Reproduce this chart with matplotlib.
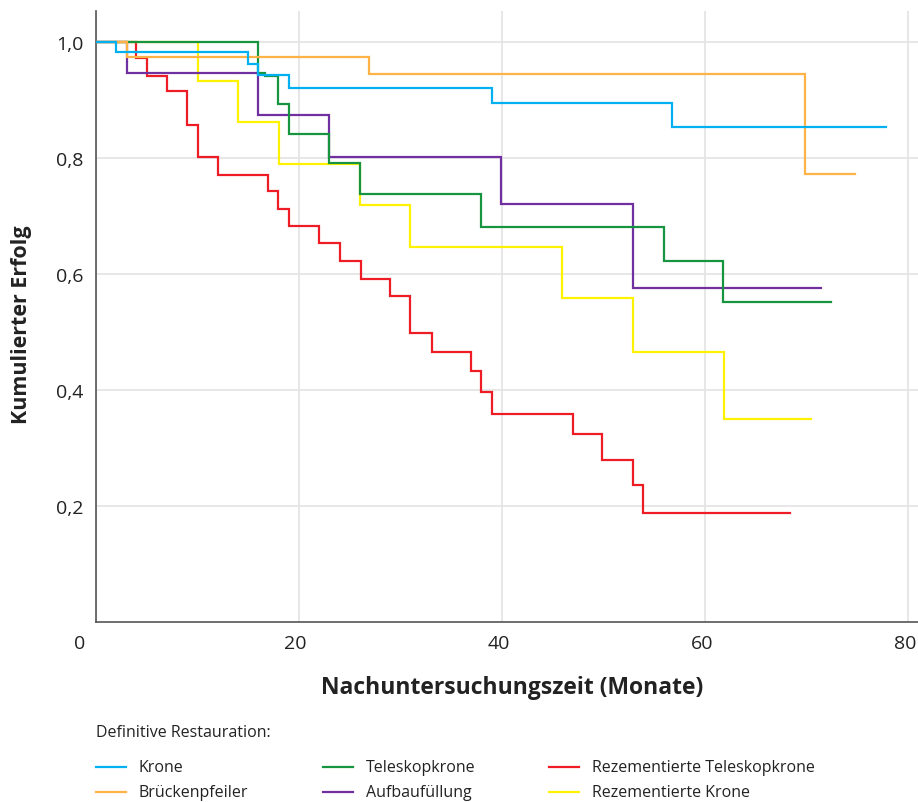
import matplotlib
matplotlib.use("Agg")
import matplotlib.pyplot as plt
import matplotlib.transforms as mtransforms
from matplotlib.lines import Line2D

# Kaplan-Meier steps: time of each drop (months), survival after it, last follow-up
krone_t = [2.0, 15.0, 16.0, 19.0, 39.0, 56.8]
krone_s = [0.982, 0.962, 0.942, 0.921, 0.895, 0.853]
krone_end = 77.8

bruecke_t = [3.1, 26.9, 69.9]
bruecke_s = [0.974, 0.944, 0.772]
bruecke_end = 74.8

teleskop_t = [16.0, 16.7, 18.0, 19.0, 23.0, 26.0, 38.0, 56.0, 61.8]
teleskop_s = [0.947, 0.941, 0.893, 0.841, 0.791, 0.737, 0.680, 0.622, 0.551]
teleskop_end = 72.4

aufbau_t = [3.05, 16.0, 23.0, 39.9, 52.9]
aufbau_s = [0.947, 0.874, 0.802, 0.720, 0.576]
aufbau_end = 71.4

rez_tk_t = [4.0, 5.1, 7.0, 9.0, 10.1, 12.0, 17.0, 18.0, 19.05, 22.0, 24.1,
            26.1, 29.0, 31.0, 33.1, 37.0, 38.0, 39.0, 47.0, 49.9, 52.9, 53.9]
rez_tk_s = [0.972, 0.941, 0.915, 0.856, 0.801, 0.771, 0.743, 0.711, 0.683,
            0.653, 0.623, 0.591, 0.561, 0.498, 0.466, 0.433, 0.396, 0.359,
            0.324, 0.280, 0.236, 0.187]
rez_tk_end = 68.4

rez_k_t = [10.05, 14.0, 18.05, 26.0, 31.0, 45.9, 52.9, 61.9]
rez_k_s = [0.933, 0.862, 0.790, 0.718, 0.646, 0.558, 0.466, 0.350]
rez_k_end = 70.5

labels = ["Krone", "Brückenpfeiler", "Teleskopkrone", "Aufbaufüllung",
          "Rezementierte Teleskopkrone", "Rezementierte Krone"]
colors = ["#00b0f0", "#ffb347", "#17943f", "#7030a0", "#ee1c25", "#fff200"]
series = [(krone_t, krone_s, krone_end), (bruecke_t, bruecke_s, bruecke_end),
          (teleskop_t, teleskop_s, teleskop_end), (aufbau_t, aufbau_s, aufbau_end),
          (rez_tk_t, rez_tk_s, rez_tk_end), (rez_k_t, rez_k_s, rez_k_end)]
zorders = [8, 7, 6, 5, 3, 4]

font = ["Open Sans", "DejaVu Sans"]

W, H = 918, 803
fig = plt.figure(figsize=(W / 100, H / 100), dpi=100)
ax = fig.add_axes([95.7 / W, 1 - 623 / H, 1 - 95.7 / W, (623 - 12) / H])

for (t, s, end), c, z in zip(series, colors, zorders):
    xs = [0] + t + [end]
    ys = [1.0] + s + [s[-1]]
    ax.step(xs, ys, where="post", color=c, lw=1.6, zorder=z, solid_joinstyle="miter")

ax.set_xlim(0, 81)
ax.set_ylim(0, 1.053)
ax.set_xticks([0, 20, 40, 60, 80])
ax.set_xticklabels(["0", "20", "40", "60", "80"])
ax.set_yticks([0.2, 0.4, 0.6, 0.8, 1.0])
ax.set_yticklabels(["0,2", "0,4", "0,6", "0,8", "1,0"])
ax.tick_params(length=0, labelsize=14, pad=9)
for lab in ax.get_xticklabels() + ax.get_yticklabels():
    lab.set_family("Open Sans")
    lab.set_color("#222222")
# labels sit a little left of their gridlines, the 0 well left of the spine
shift = mtransforms.ScaledTranslation(-3 / 100, 0, fig.dpi_scale_trans)
for lab in ax.get_xticklabels()[1:]:
    lab.set_transform(lab.get_transform() + shift)
first = ax.get_xticklabels()[0]
first.set_transform(first.get_transform() +
                    mtransforms.ScaledTranslation(-16 / 100, 0, fig.dpi_scale_trans))

ax.grid(True, color="#e3e3e3", lw=1.2)
ax.set_axisbelow(True)
for side in ["top", "right"]:
    ax.spines[side].set_visible(False)
for side in ["left", "bottom"]:
    ax.spines[side].set_color("#555555")
    ax.spines[side].set_linewidth(1.2)

fig.text(512 / W, 1 - 688 / H, "Nachuntersuchungszeit (Monate)", ha="center",
         va="center", fontsize=16.5, fontweight="bold", family=font, color="#222222")
fig.text(22 / W, 1 - 325 / H, "Kumulierter Erfolg", ha="center", va="center",
         rotation=90, fontsize=15.5, fontweight="bold", family=font, color="#222222")

# legend drawn by hand to keep the fixed column grid of the original
fig.text(96 / W, 1 - 733 / H, "Definitive Restauration:", ha="left", va="center",
         fontsize=11.5, family=font, color="#222222")
col_x = [96, 323, 549]
row_y = [768, 793]
for i, (lab, c) in enumerate(zip(labels, colors)):
    x0 = col_x[i // 2]
    y0 = 1 - row_y[i % 2] / H
    fig.add_artist(Line2D([x0 / W, (x0 + 30) / W], [y0, y0], color=c, lw=1.6,
                          transform=fig.transFigure))
    fig.text((x0 + 43) / W, y0, lab, ha="left", va="center", fontsize=11.5,
             family=font, color="#222222")

fig.savefig("out.png", dpi=100)
